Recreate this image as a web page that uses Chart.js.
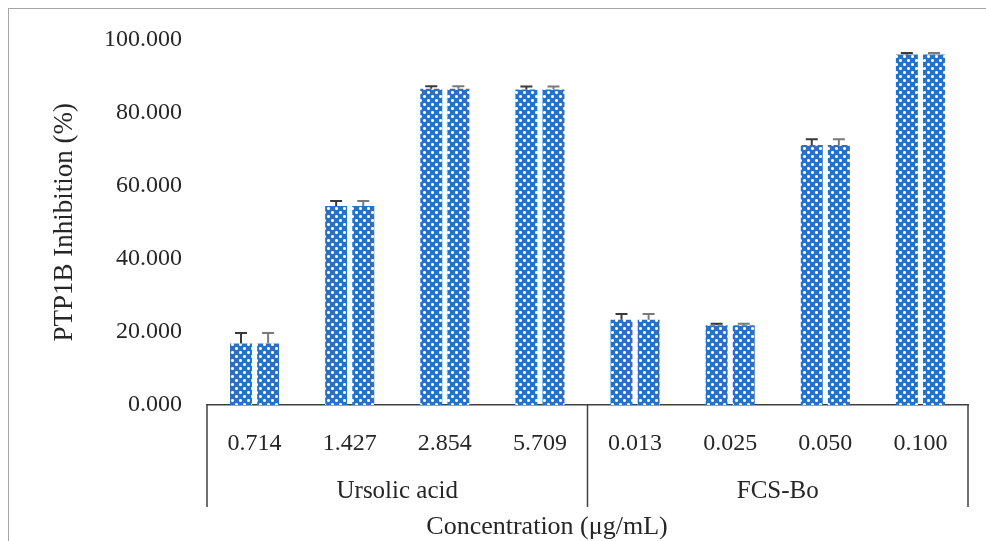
<!DOCTYPE html>
<html>
<head>
<meta charset="utf-8">
<script src="https://cdn.jsdelivr.net/npm/chart.js@4/dist/chart.umd.min.js"></script>
<style>
  html, body { margin: 0; padding: 0; background: #fff; overflow: hidden; }
  #wrap { position: relative; width: 986px; height: 541px; }
</style>
</head>
<body>
<div id="wrap"><canvas id="c" width="986" height="541"></canvas></div>
<script>
// Concentrations tested (µg/mL), grouped by compound
const concentrations = ['0.714', '1.427', '2.854', '5.709', '0.013', '0.025', '0.050', '0.100'];
const groupNames = ['Ursolic acid', 'FCS-Bo'];
const groupSizes = [4, 4];

// PTP1B inhibition (%) and standard deviations, two replicate series
const inhibitionRep1 = [16.8, 54.4, 86.5, 86.3, 23.3, 21.8, 71.1, 95.9];
const inhibitionRep2 = [16.8, 54.4, 86.5, 86.3, 23.3, 21.8, 71.1, 95.9];
const sdRep1 = [2.9, 1.4, 0.7, 0.8, 1.6, 0.4, 1.6, 0.4];
const sdRep2 = [2.9, 1.4, 0.7, 0.8, 1.6, 0.4, 1.6, 0.4];

const yMin = 0, yMax = 100, yStep = 20;

const FONT = '"Liberation Serif", "DejaVu Serif", serif';
const TEXT = '#262626';

// Blue patterned fill for the bars: white plus-shaped dots on a diagonal lattice
function makePattern() {
  const p = document.createElement('canvas');
  p.width = 8; p.height = 8;
  const g = p.getContext('2d');
  g.fillStyle = '#2c70c3';
  g.fillRect(0, 0, 8, 8);
  const dot = (cx, cy) => {
    g.fillStyle = '#ffffff';
    [[0, 0], [1, 0], [-1, 0], [0, 1], [0, -1]].forEach(([dx, dy]) => {
      g.fillRect((cx + dx + 8) % 8, (cy + dy + 8) % 8, 1, 1);
    });
    g.fillStyle = '#a9c6ea';
    [[1, 1], [-1, 1], [1, -1], [-1, -1]].forEach(([dx, dy]) => {
      g.fillRect((cx + dx + 8) % 8, (cy + dy + 8) % 8, 1, 1);
    });
  };
  dot(0, 0);
  dot(4, 4);
  return g.createPattern(p, 'repeat');
}
const barFill = makePattern();

// Frame round the whole figure
const framePlugin = {
  id: 'frame',
  beforeDraw(chart) {
    const ctx = chart.ctx;
    ctx.save();
    ctx.strokeStyle = '#a6a6a6';
    ctx.lineWidth = 1;
    ctx.strokeRect(8.5, 8.5, 1100, 700);
    ctx.restore();
  }
};

// Error bars (upper half) for every bar
const errorBarPlugin = {
  id: 'errorBars',
  afterDatasetsDraw(chart) {
    const ctx = chart.ctx;
    const yScale = chart.scales.y;
    chart.data.datasets.forEach((ds, di) => {
      const meta = chart.getDatasetMeta(di);
      ctx.save();
      ctx.strokeStyle = ds.errorColor;
      ctx.lineWidth = 2;
      meta.data.forEach((bar, i) => {
        const top = yScale.getPixelForValue(ds.data[i] + ds.errors[i]);
        ctx.beginPath();
        ctx.moveTo(bar.x, bar.y);
        ctx.lineTo(bar.x, top);
        ctx.moveTo(bar.x - 6, top);
        ctx.lineTo(bar.x + 6, top);
        ctx.stroke();
      });
      ctx.restore();
    });
  }
};

// Group separators, group names and the axis title under the category axis
const groupAxisPlugin = {
  id: 'groupAxis',
  afterDraw(chart) {
    const ctx = chart.ctx;
    const x = chart.scales.x;
    const base = chart.chartArea.bottom;
    ctx.save();
    ctx.strokeStyle = '#404040';
    ctx.lineWidth = 1.5;
    let start = 0;
    const bounds = [x.getPixelForValue(-0.5)];
    groupSizes.forEach(n => { start += n; bounds.push(x.getPixelForValue(start - 0.5)); });
    bounds.forEach(bx => {
      ctx.beginPath();
      ctx.moveTo(bx, base);
      ctx.lineTo(bx, base + 102);
      ctx.stroke();
    });
    ctx.fillStyle = TEXT;
    ctx.font = '25px ' + FONT;
    ctx.textAlign = 'center';
    ctx.textBaseline = 'middle';
    groupNames.forEach((name, gi) => {
      const cx = (bounds[gi] + bounds[gi + 1]) / 2;
      ctx.fillText(name, cx, base + 86);
    });
    ctx.font = '26px ' + FONT;
    ctx.fillText('Concentration (\u03bcg/mL)', 547, base + 122);
    ctx.restore();
  }
};

new Chart(document.getElementById('c'), {
  type: 'bar',
  data: {
    labels: concentrations,
    datasets: [
      { data: inhibitionRep1, errors: sdRep1, errorColor: '#3a3a3a',
        backgroundColor: barFill, borderWidth: 0,
        categoryPercentage: 0.57, barPercentage: 0.81 },
      { data: inhibitionRep2, errors: sdRep2, errorColor: '#7a7a7a',
        backgroundColor: barFill, borderWidth: 0,
        categoryPercentage: 0.57, barPercentage: 0.81 }
    ]
  },
  options: {
    responsive: false,
    devicePixelRatio: 1,
    animation: false,
    layout: { padding: { left: 0, top: 37, right: 18, bottom: 0 } },
    plugins: { legend: { display: false }, tooltip: { enabled: false } },
    scales: {
      x: {
        grid: { display: false, drawTicks: false },
        border: { display: true, color: '#404040', width: 1.5 },
        ticks: { color: TEXT, font: { family: FONT, size: 24 }, padding: 24, maxRotation: 0, autoSkip: false },
        afterFit(scale) { scale.height = 136; }
      },
      y: {
        min: yMin, max: yMax,
        grid: { display: false, drawTicks: false },
        border: { display: false },
        ticks: { stepSize: yStep, color: TEXT, font: { family: FONT, size: 24 }, padding: 25,
                 callback: v => Number(v).toFixed(3) },
        title: { display: true, text: 'PTP1B Inhibition (%)', color: TEXT,
                 font: { family: FONT, size: 27 }, padding: { top: 49 } },
        afterFit(scale) { scale.width = 207; }
      }
    }
  },
  plugins: [framePlugin, errorBarPlugin, groupAxisPlugin]
});
</script>
</body>
</html>
